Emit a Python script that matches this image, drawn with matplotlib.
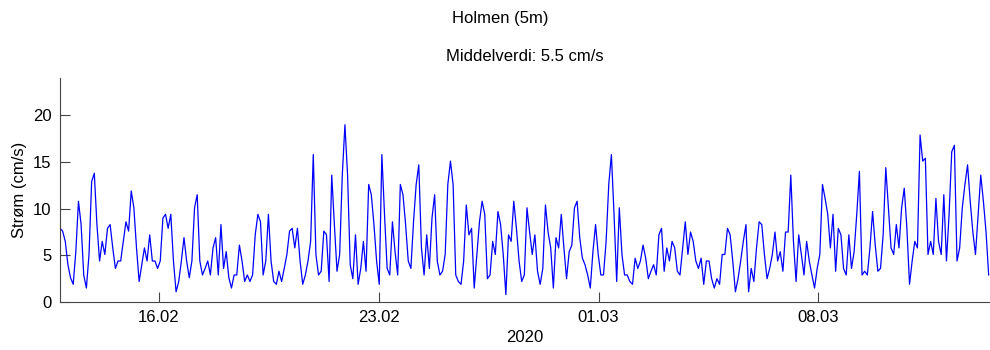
import numpy as np
import pandas as pd
import matplotlib
matplotlib.use("Agg")
import matplotlib.pyplot as plt
import matplotlib.dates as mdates

plt.rcParams['font.family'] = ['Liberation Sans', 'DejaVu Sans']

# strømstyrke (cm/s), ca. hver 2. time
v1 = [7.9, 7.6, 6.5, 4.0, 2.6, 1.9, 5.4, 10.8, 8.3, 2.9, 1.5, 5.1, 12.9, 13.8, 8.3, 4.4, 6.5, 5.1,
      7.9, 8.3, 5.8, 3.6, 4.4, 4.4, 6.5, 8.6, 7.6, 11.9, 10.1, 5.8, 2.2, 4.0, 5.8, 4.4, 7.2, 4.4]
v2 = [4.4, 3.6, 4.4, 9.0, 9.4, 7.9, 9.4, 4.4, 1.1, 2.2, 4.4, 6.9, 4.4, 2.6, 4.4, 10.1, 11.5, 4.4,
      2.9, 3.6, 4.4, 2.9, 5.8, 6.9, 2.9, 8.3, 3.6, 5.4, 2.6, 1.5, 2.9, 2.9, 6.1, 4.4, 2.2, 2.9]
v3 = [2.2, 2.9, 7.2, 9.4, 8.6, 2.9, 4.4, 9.4, 4.4, 2.2, 1.9, 3.3, 2.2, 3.6, 5.1, 7.6, 7.9, 5.8,
      7.9, 4.4, 1.9, 2.9, 4.4, 6.5, 15.8, 5.1, 2.9, 3.3, 7.6, 7.2, 2.2, 13.6, 8.3, 3.3, 5.1, 13.6]
v4 = [19.0, 13.6, 4.0, 2.5, 7.2, 1.9, 3.6, 6.5, 3.3, 12.6, 11.5, 8.3, 4.4, 1.9, 15.8, 9.4, 3.6, 2.9,
      8.6, 5.4, 2.9, 12.6, 11.5, 8.3, 4.4, 3.6, 8.6, 12.6, 14.7, 5.8, 2.9, 7.2, 3.6, 9.0, 11.5, 4.4]
v5 = [2.9, 3.3, 5.1, 12.6, 15.1, 12.6, 2.9, 2.2, 1.9, 4.4, 10.4, 7.2, 7.9, 1.5, 5.1, 8.6, 10.8, 9.4,
      2.5, 2.9, 6.5, 5.1, 9.7, 8.3, 5.1, 0.8, 7.2, 6.5, 10.8, 7.9, 4.4, 2.2, 2.9, 10.1, 7.5, 5.1]
v6 = [7.2, 3.3, 1.9, 3.6, 10.4, 7.5, 5.8, 1.5, 6.9, 5.8, 9.4, 5.8, 2.5, 5.4, 6.1, 10.1, 10.8, 6.9,
      4.7, 4.0, 2.9, 1.5, 5.4, 8.3, 5.1, 2.9, 2.9, 6.5, 12.6, 15.8, 9.4, 2.2, 10.1, 5.1, 2.9, 2.9]
v7 = [2.2, 1.9, 4.7, 3.6, 4.4, 6.1, 4.7, 2.5, 3.3, 4.0, 2.9, 7.2, 7.9, 3.3, 5.8, 4.4, 6.5, 5.8,
      3.3, 2.9, 5.8, 8.6, 5.1, 7.5, 6.5, 4.4, 3.6, 4.7, 1.9, 4.4, 4.4, 2.5, 1.5, 2.5, 1.9, 5.1]
v8 = [5.1, 7.9, 7.2, 4.4, 1.1, 2.5, 4.4, 6.5, 8.3, 1.1, 3.6, 2.2, 5.8, 8.6, 8.3, 5.1, 2.5, 3.6,
      5.1, 7.5, 4.4, 5.4, 3.3, 7.5, 7.5, 13.6, 6.5, 2.2, 7.2, 5.1, 2.9, 6.5, 4.4, 2.9, 1.5, 3.6]
v9 = [5.1, 12.6, 11.1, 9.4, 5.8, 9.4, 3.3, 7.9, 7.2, 3.6, 2.9, 7.2, 3.6, 5.4, 9.4, 14.0, 2.9, 3.3,
      2.9, 5.8, 9.7, 6.1, 3.3, 3.6, 7.2, 14.4, 10.1, 5.8, 5.1, 8.3, 5.8, 10.1, 12.2, 7.9, 1.9, 4.4]
v10 = [6.5, 5.8, 17.9, 15.1, 15.4, 5.1, 6.5, 5.1, 11.1, 6.5, 5.1, 11.5, 4.4, 9.4, 16.1, 16.8, 4.4,
       5.8, 10.1, 12.6, 14.7, 10.8, 7.5, 5.1, 9.4, 13.6, 10.8, 7.5, 2.9]

strom = v1 + v2 + v3 + v4 + v5 + v6 + v7 + v8 + v9 + v10
tid = pd.date_range("2020-02-12 20:20", periods=len(strom), freq="121min")

tick_dates = ["2020-02-16", "2020-02-23", "2020-03-01", "2020-03-08"]
yticks = [0, 5, 10, 15, 20]

fig = plt.figure(figsize=(9.9, 3.5), dpi=100)
ax = fig.add_axes([0.0606, 0.137, 0.9394, 0.640])

ax.plot(tid, strom, color="#0000ff", lw=0.9)

start = pd.Timestamp("2020-02-12 20:20")
ax.set_xlim(start, start + pd.Timedelta(days=29.62))
ax.set_ylim(0, 24)
ax.set_yticks(yticks)
ax.set_xticks(pd.to_datetime(tick_dates))
ax.xaxis.set_major_formatter(mdates.DateFormatter("%d.%m"))

# matlab-aktig akse, uten boks
for s in ["top", "right"]:
    ax.spines[s].set_visible(False)
for s in ["left", "bottom"]:
    ax.spines[s].set_color("#444444")
ax.tick_params(direction="in", length=7, color="#444444", labelsize=12, pad=6)

ax.set_ylabel("Strøm (cm/s)", fontsize=12)
ax.set_xlabel("2020", fontsize=12, labelpad=3)
ax.set_title("Middelverdi: 5.5 cm/s", fontsize=12, pad=12)
fig.text(0.505, 0.948, "Holmen (5m)", ha="center", va="center", fontsize=12)

fig.savefig("out.png", dpi=100)
